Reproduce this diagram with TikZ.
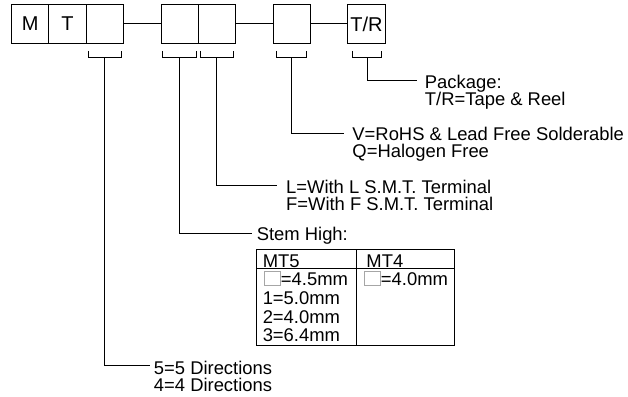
\documentclass[tikz,border=0pt]{standalone}
\usepackage{fontspec}
\setmainfont{Liberation Sans}
\begin{document}
\begin{tikzpicture}[x=1pt,y=-1pt,line width=0.9pt,
  pbox/.style={draw,minimum width=37.3pt,minimum height=38.4pt,inner sep=0pt,anchor=north west,font=\fontsize{20}{20}\selectfont},
  lbl/.style={anchor=base west,inner sep=0pt,font=\fontsize{18.4}{17}\selectfont},
  gbox/.style={draw=gray!70,line width=0.6pt}]
\useasboundingbox (0,0) rectangle (628,396);
% part-number boxes
\node[pbox] (b1) at (11,4.3) {M};
\node[pbox] (b2) at (48.3,4.3) {T};
\node[pbox] (b3) at (85.6,4.3) {};
\node[pbox] (b4) at (160.7,4.3) {};
\node[pbox] (b5) at (198,4.3) {};
\node[pbox] (b6) at (272.7,4.3) {};
\node[pbox] (b7) at (347.3,4.3) {T/R};
\draw (b3.east) -- (b4.west);
\draw (b5.east) -- (b6.west);
\draw (b6.east) -- (b7.west);
% brackets
\draw (88,51) -- (88,57) -- (121,57) -- (121,51);
\draw (162.3,51) -- (162.3,57) -- (196,57) -- (196,51);
\draw (200,51) -- (200,57) -- (233.3,57) -- (233.3,51);
\draw (276.7,51) -- (276.7,57) -- (306.7,57) -- (306.7,51);
\draw (352.3,51) -- (352.3,57) -- (381.7,57) -- (381.7,51);
\coordinate (c1) at (104.5,57);
\coordinate (c2) at (179.2,57);
\coordinate (c3) at (216.7,57);
\coordinate (c4) at (291.7,57);
\coordinate (c5) at (367,57);
% line ends
\coordinate (e5) at (417,80.7);
\coordinate (e4) at (344,133);
\coordinate (e3) at (277,185.7);
\coordinate (e2) at (251.7,233.3);
\coordinate (e1) at (150,365.3);
\draw (c5) |- (e5);
\draw (c4) |- (e4);
\draw (c3) |- (e3);
\draw (c2) |- (e2);
\draw (c1) |- (e1);
% labels
\node[lbl] (pk1) at (424.5,88.2) {Package:};
\node[lbl] (pk2) at (424.5,105.8) {T/R=Tape \& Reel};
\node[lbl] (v1) at (352,140) {V=RoHS \& Lead Free Solderable};
\node[lbl] (v2) at (352,157.6) {Q=Halogen Free};
\node[lbl] (l1) at (285.7,193) {L=With L S.M.T. Terminal};
\node[lbl] (l2) at (285.7,210.6) {F=With F S.M.T. Terminal};
\node[lbl] (s1) at (256.4,240) {Stem High:};
\node[lbl] (d1) at (153.5,374.2) {5=5 Directions};
\node[lbl] (d2) at (153.5,391.8) {4=4 Directions};
% table
\draw (256.7,249) rectangle (454.7,345.3);
\draw (256.7,268.3) -- (454.7,268.3);
\draw (356,249) -- (356,345.3);
\node[lbl] (t1) at (262.3,267.3) {MT5};
\node[lbl] (t2) at (366,267.3) {MT4};
\draw[gbox] (264.7,271.7) rectangle (280.7,285.7);
\node[lbl] (t3) at (280.5,285.7) {=4.5mm};
\node[lbl] (t4) at (262.3,304.5) {1=5.0mm};
\node[lbl] (t5) at (262.3,323.2) {2=4.0mm};
\node[lbl] (t6) at (262.3,341.7) {3=6.4mm};
\draw[gbox] (364.7,271.7) rectangle (380.7,285.7);
\node[lbl] (t7) at (380.5,285.7) {=4.0mm};
\end{tikzpicture}
\end{document}
